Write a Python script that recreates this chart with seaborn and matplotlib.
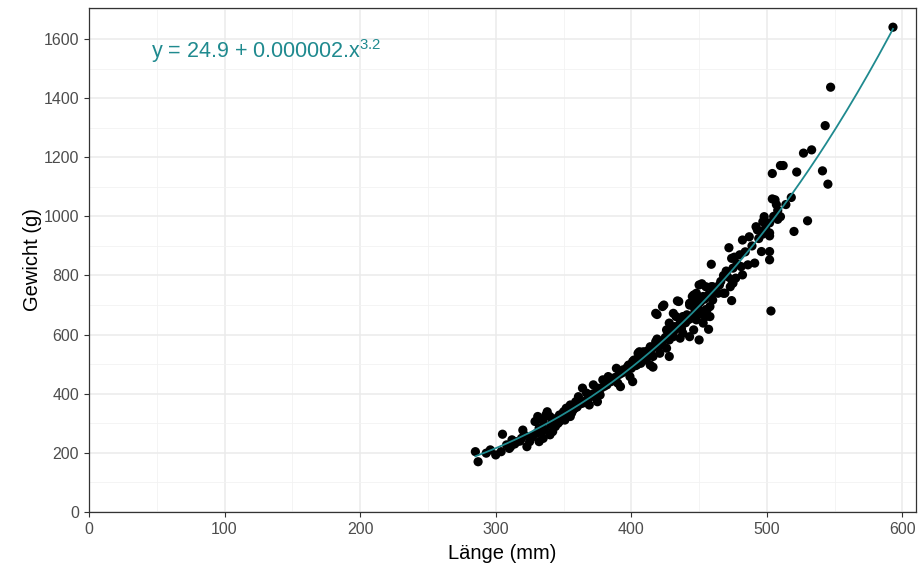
import numpy as np
import pandas as pd
import matplotlib
matplotlib.use("Agg")
import matplotlib.pyplot as plt
from matplotlib.ticker import MultipleLocator
import seaborn as sns

# Laenge (mm) / Gewicht (g)
laenge = [
    593, 547, 543, 527, 533, 510, 512, 504, 522, 541, 545, 518, 504, 506, 507, 508,
    510, 498, 497, 530, 520, 502, 502, 502, 492, 493, 482, 487, 496, 502, 502, 503,
    472, 474, 476, 475, 481, 486, 491, 459, 471, 474, 477, 482, 473, 475, 474, 468,
    450, 455, 460, 446, 448, 453, 458, 462, 443, 446, 450, 455, 458, 434, 423, 418,
    431, 433, 438, 446, 453, 455,
    452, 459, 465, 469, 445, 448, 443, 445, 435, 424, 419, 450, 456, 460, 441, 448,
    453, 458, 457, 450, 428, 432, 436, 438, 443, 446, 431, 436, 426, 428, 418, 414,
    409, 405, 423, 426, 421, 416, 411, 428, 401, 404, 400, 414, 416,
    406, 411, 402, 407, 398, 394, 389, 399, 401, 383, 379, 385, 390, 392, 372, 375,
    364, 367, 369, 374, 377, 361, 359, 364, 369, 375, 355, 352, 350, 347, 357, 345,
    342, 340, 343, 351, 355,
    285, 287, 293, 296, 300, 304, 305, 308, 311, 312, 316, 319, 321, 320, 323, 325,
    327, 330, 332, 335, 337, 338, 332, 335, 340, 342, 344, 347, 349, 352, 329, 331,
    310, 314, 318, 326, 334, 336, 341, 346, 348, 353, 356, 358, 360, 362, 366, 368,
    370, 372, 376, 378, 380, 382, 384, 386, 388, 391, 393, 396, 397, 403, 405, 408,
    410, 412, 415, 417, 419, 420, 422, 425, 427, 429, 432, 437, 440, 442, 444, 447,
    449, 451, 454, 457, 461, 464, 466, 468, 470, 478, 480, 484, 489, 494, 497, 499,
    505, 508, 514,
]
gewicht = [
    1640, 1437, 1307, 1214, 1225, 1172, 1172, 1145, 1150, 1154, 1109, 1064, 1059, 1056, 1040, 1020,
    999, 999, 982, 985, 949, 978, 944, 934, 965, 954, 920, 931, 881, 881, 853, 680,
    894, 858, 862, 825, 830, 836, 842, 838, 796, 785, 791, 802, 762, 774, 715, 740,
    768, 762, 762, 734, 729, 729, 729, 745, 706, 695, 684, 684, 695, 714, 695, 672,
    672, 661, 661, 667, 667, 661,
    772, 762, 768, 740, 729, 740, 700, 706, 712, 700, 668, 678, 686, 717, 667, 650,
    639, 661, 618, 582, 639, 627, 639, 605, 593, 616, 593, 588, 616, 582, 576, 559,
    542, 537, 565, 554, 537, 526, 514, 526, 509, 497, 486, 497, 490,
    542, 531, 514, 503, 497, 481, 486, 458, 441, 458, 447, 441, 436, 424, 430, 419,
    419, 402, 390, 385, 396, 390, 373, 368, 362, 373, 362, 351, 339, 328, 345, 317,
    306, 323, 294, 311, 323,
    204, 170, 199, 210, 193, 204, 263, 227, 221, 244, 238, 249, 261, 277, 221, 238,
    255, 266, 283, 306, 328, 339, 238, 249, 261, 272, 289, 306, 323, 345, 306, 323,
    215, 230, 240, 250, 270, 280, 295, 300, 315, 330, 335, 350, 355, 365, 375, 380,
    395, 400, 410, 420, 425, 430, 450, 445, 455, 465, 470, 475, 490, 495, 520, 515,
    525, 545, 550, 560, 585, 560, 575, 590, 600, 610, 615, 620, 640, 650, 655, 680,
    700, 710, 720, 735, 750, 740, 780, 800, 815, 840, 870, 880, 900, 925, 940, 960,
    1000, 990, 1040,
]
exponent = 3.2
eq_label = r"y = 24.9 + 0.000002.x$^{3.2}$"

teal = "#1F8A8F"

df = pd.DataFrame({"laenge": laenge, "gewicht": gewicht})

# fit y = a + b * x^3.2
b, a = np.polyfit(df["laenge"] ** exponent, df["gewicht"], 1)
xs = np.linspace(df["laenge"].min(), df["laenge"].max(), 200)
fit = pd.DataFrame({"laenge": xs, "gewicht": a + b * xs ** exponent})

plt.rcParams["font.family"] = ["Liberation Sans", "DejaVu Sans"]
plt.rcParams["mathtext.default"] = "regular"

fig = plt.figure(figsize=(9.21, 5.70), dpi=100)
ax = fig.add_axes([0.0966, 0.1018, 0.8980, 0.8842])
ax.set_facecolor("white")

sns.scatterplot(data=df, x="laenge", y="gewicht", color="black", s=44,
                edgecolor="none", ax=ax, zorder=3)
sns.lineplot(data=fit, x="laenge", y="gewicht", color=teal, linewidth=1.3,
             ax=ax, zorder=4)

ax.set_xlim(0, 610)
ax.set_ylim(0, 1705)
ax.xaxis.set_major_locator(MultipleLocator(100))
ax.xaxis.set_minor_locator(MultipleLocator(50))
ax.yaxis.set_major_locator(MultipleLocator(200))
ax.yaxis.set_minor_locator(MultipleLocator(100))
ax.grid(which="major", color="#EBEBEB", linewidth=1.1, zorder=0)
ax.grid(which="minor", color="#F2F2F2", linewidth=0.6, zorder=0)
ax.set_axisbelow(True)

for s in ax.spines.values():
    s.set_color("#333333")
    s.set_linewidth(0.9)
ax.tick_params(which="major", length=3.5, width=0.8, color="#333333",
               labelsize=11.5, labelcolor="#4D4D4D")
ax.tick_params(which="minor", length=0)

ax.set_xlabel("Länge (mm)", fontsize=14.5, color="black", labelpad=5)
ax.set_ylabel("Gewicht (g)", fontsize=14.5, color="black", labelpad=1)

ax.text(46, 1558, eq_label, color=teal, fontsize=15.5, ha="left", va="center")

fig.savefig("out.png", dpi=100)
